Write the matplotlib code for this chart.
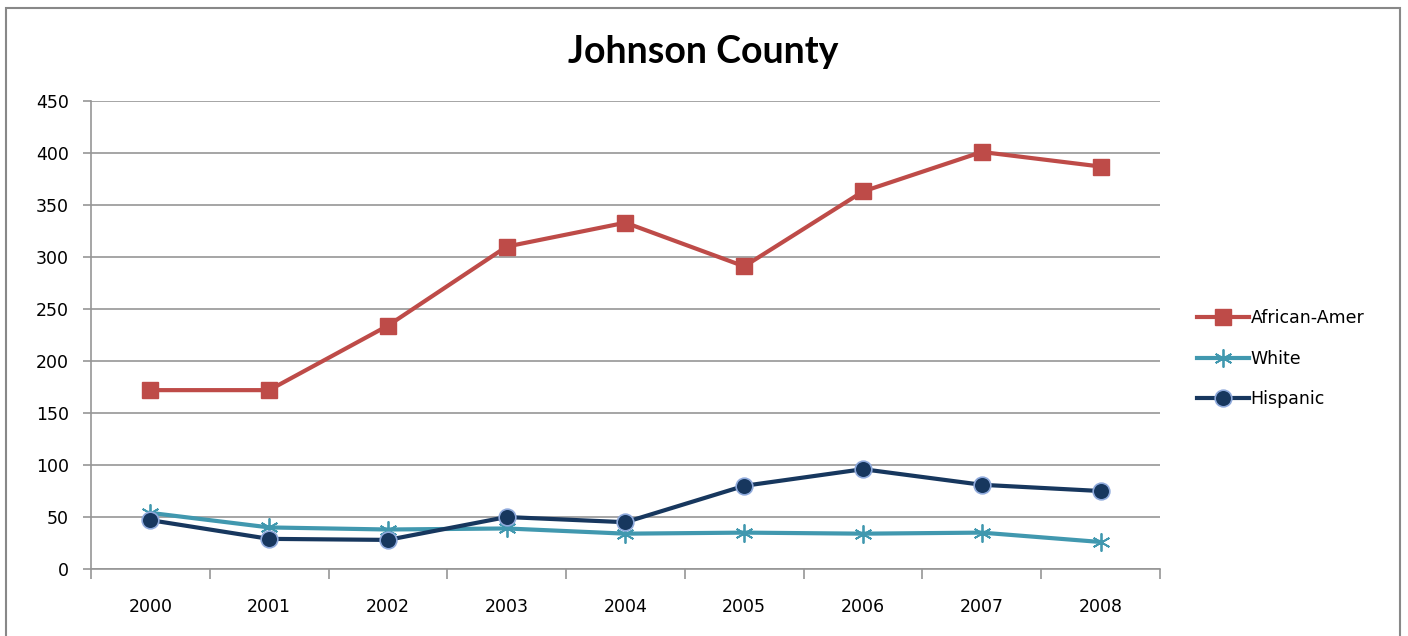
import numpy as np
import matplotlib.pyplot as plt
from matplotlib.patches import Rectangle

years = ['2000', '2001', '2002', '2003', '2004', '2005', '2006', '2007', '2008']
african_amer = [172, 172, 234, 310, 333, 291, 363, 401, 387]
white = [54, 40, 38, 39, 34, 35, 34, 35, 26]
hispanic = [47, 29, 28, 50, 45, 80, 96, 81, 75]

fig = plt.figure(figsize=(14.08, 6.36), dpi=100)
ax = fig.add_axes([0.0646, 0.1053, 0.7592, 0.7359])

x = np.arange(len(years))
ax.plot(x, african_amer, color='#BE4B48', lw=3, marker='s', ms=11,
        mfc='#BE4B48', mec='#BE4B48', label='African-Amer', zorder=3)
ax.plot(x, white, color='#4198AF', lw=3, marker=(6, 2, 0), ms=13,
        mec='#4198AF', mew=1.3, label='White', zorder=3)
ax.plot(x, hispanic, color='#17375E', lw=3, marker='o', ms=12,
        mfc='#17375E', mec='#8EA9DB', mew=1.2, label='Hispanic', zorder=4)

ax.set_xlim(-0.5, len(years) - 0.5)
ax.set_ylim(0, 450)
ax.set_yticks(range(0, 451, 50))
ax.yaxis.grid(True, color='#969696', lw=1.2)
ax.set_axisbelow(True)

# category ticks between labels, like the spreadsheet axis
ax.set_xticks(np.arange(-0.5, len(years), 1))
ax.set_xticklabels([])
ax.set_xticks(x, minor=True)
ax.set_xticklabels(years, minor=True)
ax.tick_params(axis='x', which='major', length=7, color='#969696', width=1.2)
ax.tick_params(axis='x', which='minor', length=0, pad=21, labelsize=12.5)
ax.tick_params(axis='y', length=6, color='#969696', width=1.2, labelsize=12.5, pad=10)

for s in ['top', 'right']:
    ax.spines[s].set_visible(False)
for s in ['left', 'bottom']:
    ax.spines[s].set_color('#969696')
    ax.spines[s].set_linewidth(1.2)

fig.text(0.4995, 0.918, 'Johnson County', ha='center', va='center',
         fontsize=27, fontweight='bold', family='Lato')

ax.legend(loc='center left', bbox_to_anchor=(1.02, 0.449), frameon=False,
          fontsize=12.5, handlelength=3, handletextpad=0.1, labelspacing=1.3)

fig.patches.append(Rectangle((0.0043, -0.01), 0.99, 0.997, transform=fig.transFigure,
                             fill=False, edgecolor='#888888', lw=1.5))

fig.savefig('out.png', dpi=100)
